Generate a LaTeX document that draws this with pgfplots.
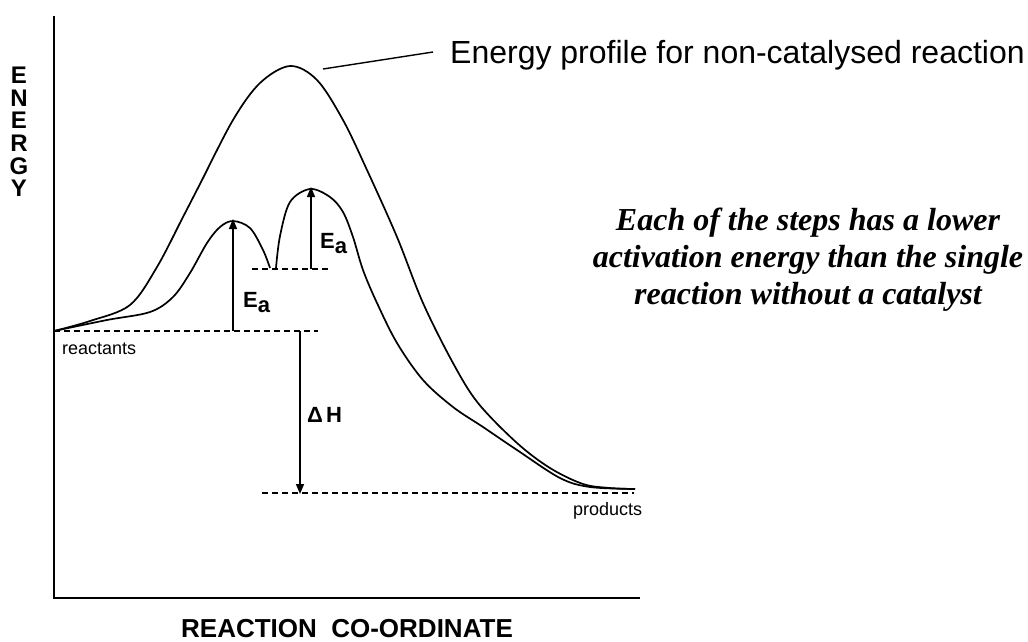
\documentclass[border=0pt]{standalone}
\usepackage{pgfplots}
\pgfplotsset{compat=1.18}
\usepackage{fontspec}
\setmainfont{Liberation Sans}
\newfontfamily\serifbi[BoldItalicFont={Liberation Serif Bold Italic}]{Liberation Serif}
\usetikzlibrary{arrows.meta}
\begin{document}
\begin{tikzpicture}
\begin{axis}[scale only axis, width=1028pt, height=641pt,
  xmin=0, xmax=1028, ymin=0, ymax=641, y dir=reverse,
  hide axis, clip=false, anchor=south west, at={(0pt,0pt)}]
% axes
\draw[line width=2.8pt, line join=miter] (axis cs:54,16) -- (axis cs:54,598) -- (axis cs:640,598);
% non-catalysed profile
\addplot[line width=1.7pt, smooth, tension=0.55] coordinates {
(54,331) (90,321) (130,305) (157,267) (183,217) (200,184) (233,120) (260,83)
(290,66) (317,80) (343,120) (367,170) (397,237) (423,303) (453,363) (478,403)
(517,443) (550,468) (583,484) (610,488) (635,489)};
% catalysed profile, step 1
\addplot[line width=1.7pt, smooth, tension=0.55] coordinates {
(54,331) (107,320) (150,312) (173,297) (190,273) (207,243) (220,227) (233,221)
(250,228) (263,250) (270,268)};
% catalysed profile, step 2
\addplot[line width=1.7pt, smooth, tension=0.55] coordinates {
(276,268) (280,236) (290,202) (310,189) (330,197) (343,212) (353,237) (363,270)
(377,303) (397,343) (423,380) (453,407) (483,427) (517,450) (560,478) (590,487) (635,489)};
% dashed levels
\addplot[line width=1.4pt, dash pattern=on 6pt off 4pt] coordinates {(54,331) (318,331)};
\addplot[line width=1.4pt, dash pattern=on 6pt off 4pt] coordinates {(252,269) (328,269)};
\addplot[line width=1.4pt, dash pattern=on 6pt off 4pt] coordinates {(262,493) (634,493)};
% arrows
\draw[line width=1.6pt, -{Triangle[length=10pt,width=8pt]}] (axis cs:233,331) -- (axis cs:233,219);
\draw[line width=1.6pt, -{Triangle[length=10pt,width=8pt]}] (axis cs:311,269) -- (axis cs:311,187);
\draw[line width=1.6pt, -{Triangle[length=10pt,width=8pt]}] (axis cs:300,331) -- (axis cs:300,494);
% leader line
\draw[line width=1.4pt] (axis cs:323,69) -- (axis cs:433,52);
% labels
\node[anchor=base west, inner sep=0pt, font=\fontsize{22}{24}\selectfont\bfseries] at (axis cs:243,307) {E\raisebox{-5pt}{a}};
\node[anchor=base west, inner sep=0pt, font=\fontsize{22}{24}\selectfont\bfseries] at (axis cs:320,248) {E\raisebox{-5pt}{a}};
\node[anchor=base west, inner sep=0pt, font=\fontsize{22}{24}\selectfont\bfseries] at (axis cs:307,422) {Δ\hspace{3pt}H};
\node[anchor=base west, inner sep=0pt, font=\fontsize{18}{21}\selectfont] at (axis cs:62,354) {reactants};
\node[anchor=base west, inner sep=0pt, font=\fontsize{18}{21}\selectfont] at (axis cs:573,515) {products};
\node[anchor=base west, inner sep=0pt, font=\fontsize{32}{38}\selectfont] at (axis cs:450,63) {Energy profile for non-catalysed reaction};
\node[anchor=base, inner sep=0pt, font=\fontsize{32}{37}\selectfont\serifbi\bfseries\itshape] at (axis cs:808,230) {Each of the steps has a lower};
\node[anchor=base, inner sep=0pt, font=\fontsize{32}{37}\selectfont\serifbi\bfseries\itshape] at (axis cs:808,267) {activation energy than the single};
\node[anchor=base, inner sep=0pt, font=\fontsize{32}{37}\selectfont\serifbi\bfseries\itshape] at (axis cs:808,304) {reaction without a catalyst};
\node[anchor=base, inner sep=0pt, font=\fontsize{26}{30}\selectfont\bfseries] at (axis cs:347,637) {REACTION\ \ CO-ORDINATE};
\node[anchor=north, inner sep=0pt, font=\fontsize{24}{22.6}\selectfont\bfseries, align=center] at (axis cs:19,67) {E\\N\\E\\R\\G\\Y};
\end{axis}
\pgfresetboundingbox
\path (0pt,0pt) rectangle (1028pt,641pt);
\end{tikzpicture}
\end{document}
